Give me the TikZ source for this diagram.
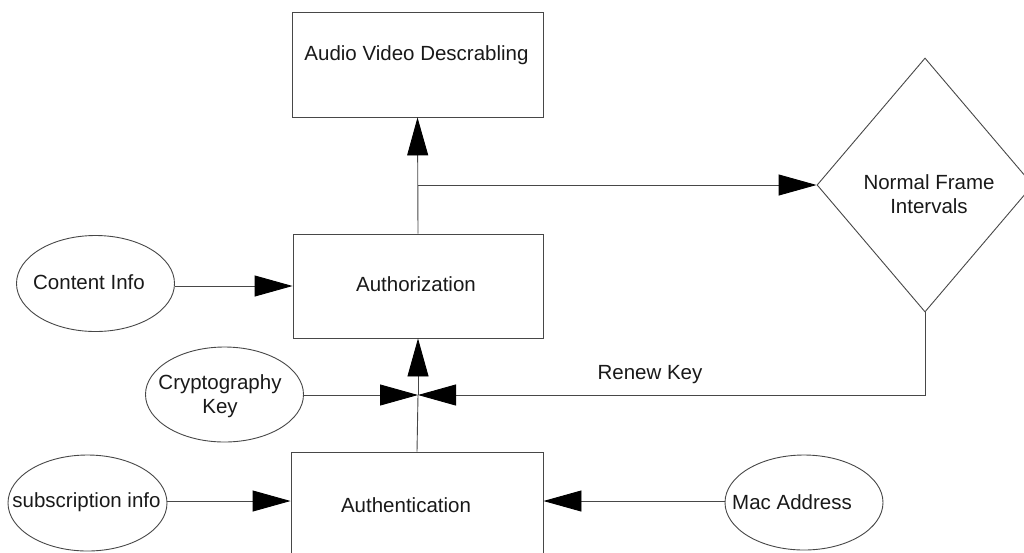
\documentclass[tikz,border=0pt]{standalone}
\usepackage{fontspec}
\setmainfont{Liberation Sans}
\usetikzlibrary{shapes.geometric,arrows.meta}

\tikzset{
  line/.style={draw=black!72, line width=0.9pt},
  flow/.style={line, -{Triangle[length=38pt, width=21pt, color=black, fill=black]}},
  procbox/.style={line, rectangle, inner sep=0pt},
  datum/.style={line, ellipse, inner sep=0pt, minimum width=158pt, minimum height=96pt},
  check/.style={line, diamond, inner sep=0pt, minimum width=216pt, minimum height=254pt},
  caption/.style={inner sep=0pt, align=center, font=\fontsize{20.5pt}{24pt}\selectfont, text=black!90}
}

\begin{document}
\begin{tikzpicture}[x=1pt, y=-1pt]
\useasboundingbox (0,0) rectangle (1024,552);
\clip (0,0) rectangle (1024,552);

% process boxes
\node[procbox, minimum width=251pt, minimum height=105pt] (avd) at (417.5,64.5) {};
\node[procbox, minimum width=250pt, minimum height=104pt] (authz) at (418,286) {};
\node[procbox, minimum width=252pt, minimum height=108pt] (authn) at (417,506) {};

% decision
\node[check] (nfi) at (925,185) {};

% data sources
\node[datum] (content) at (95.5,283.5) {};
\node[datum, minimum height=95pt] (crypto) at (224.5,394.5) {};
\node[datum, minimum width=159pt] (subs) at (87.5,503) {};
\node[datum, minimum height=95pt] (mac) at (804,502.5) {};

% texts
\node[caption] (tavd) at (416.5,55) {Audio Video Descrabling};
\node[caption] (tauthz) at (416,284) {Authorization};
\node[caption] (tauthn) at (406,505) {Authentication};
\node[caption] (tnfi) at (929,194) {Normal Frame\\Intervals};
\node[caption] (tcontent) at (89,282) {Content Info};
\node[caption] (tcrypto) at (220,396) {Cryptography\\Key};
\node[caption] (tsubs) at (86.5,502) {subscription info};
\node[caption] (tmac) at (792,502) {Mac Address};

% junction and branch points
\coordinate (j) at (authz.south |- 0,395);
\coordinate (br) at (authz.north |- nfi.west);

% connectors
\draw[flow] (authz.north) -- (avd.south);
\draw[flow] (br) -- (nfi.west);
\draw[flow] (content.east |- 0,286) -- (authz.west |- 0,286);
\draw[flow] (crypto.east |- j) -- (j);
\draw[flow] (nfi.south) -- (nfi.south |- j) -- (j);
\draw[line] (authn.north) -- (j);
\draw[flow] (j) -- (authz.south);
\draw[flow] (subs.east |- 0,501) -- (authn.west |- 0,501);
\draw[flow] (mac.west |- 0,501) -- (authn.east |- 0,501);

\node[caption] (renew) at (650,375) {Renew Key};
\end{tikzpicture}
\end{document}
